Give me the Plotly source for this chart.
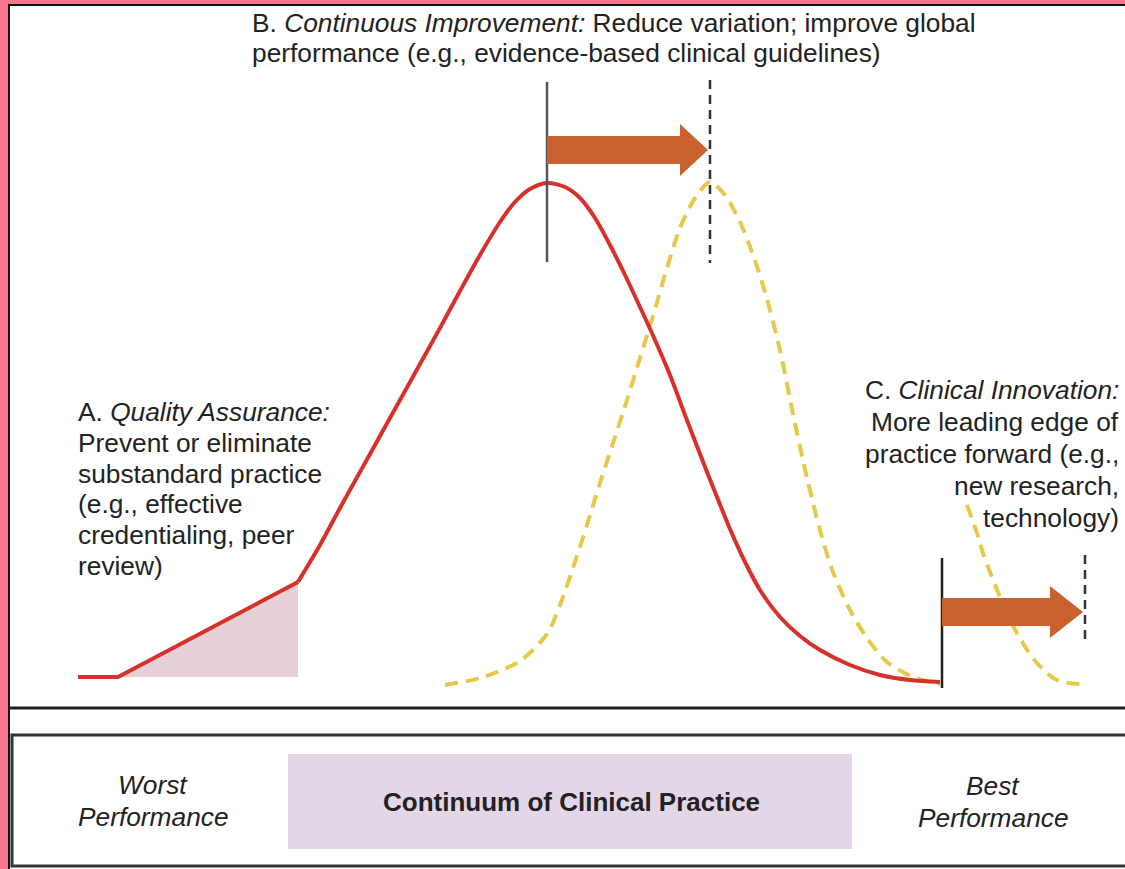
import plotly.graph_objects as go

# ---- data (pixel-space coordinates of the figure) ----
red_lin_x = [78, 118, 298]
red_lin_y = [677, 677, 582]

red_x = [298, 320, 340, 360, 380, 400, 420, 440, 460, 480, 500, 515, 530, 547,
         565, 580, 595, 610, 625, 640, 655, 670, 685, 700, 715, 730, 745, 760,
         780, 800, 820, 850, 880, 910, 940]
red_y = [582, 545, 508, 472, 436, 400, 364, 328, 291, 255, 222, 202, 189, 183,
         187, 198, 218, 245, 275, 307, 340, 375, 415, 454, 492, 529, 562, 590,
         617, 636, 650, 665, 675, 680, 682]

yel_b_x = [445, 480, 520, 547, 560, 573, 587, 600, 613, 627, 640, 653, 667, 680,
           695, 710, 725, 740, 752, 765, 780, 793, 807, 820, 833, 850, 867, 887,
           913, 940]
yel_b_y = [685, 678, 661, 634, 605, 568, 525, 483, 443, 400, 358, 316, 268, 228,
           198, 182, 195, 222, 252, 292, 350, 414, 478, 530, 572, 610, 638, 662,
           677, 684]

yel_c_x = [967, 977, 983, 1000, 1017, 1037, 1057, 1080]
yel_c_y = [505, 533, 553, 597, 633, 663, 680, 684]

# markers: [x, y_top, y_bottom]
b_solid = [547, 82, 262]
b_dash = [710, 80, 263]
c_solid = [942, 558, 688]
c_dash = [1085, 555, 640]

# arrows: [x_start, x_tip, y_center]
arrow_b = [547, 708, 150]
arrow_c = [942, 1083, 612]

text_b = ["B. <i>Continuous Improvement:</i> Reduce variation; improve global",
          "performance (e.g., evidence-based clinical guidelines)"]
text_a = ["A. <i>Quality Assurance:</i>", "Prevent or eliminate",
          "substandard practice", "(e.g., effective",
          "credentialing, peer", "review)"]
text_c = ["C. <i>Clinical Innovation:</i>", "More leading edge of",
          "practice forward (e.g.,", "new research,", "technology)"]

W, H = 1125, 869
PINK = "#F5788D"
RED = "#D8302B"
YEL = "#E6C84A"
ORANGE = "#C9622F"
FONT = "Liberation Sans, Arial, sans-serif"
FS = 26.3
TXT = "#222222"

fig = go.Figure()

# shaded area under quality-assurance segment
base = red_lin_y[0]
fill_x = red_lin_x[1:] + [red_lin_x[-1], red_lin_x[1]]
fill_y = red_lin_y[1:] + [base, base]
fig.add_trace(go.Scatter(x=fill_x, y=fill_y, fill="toself", mode="none",
                         fillcolor="#E8D0D8", hoverinfo="skip"))

fig.add_trace(go.Scatter(x=yel_b_x, y=yel_b_y, mode="lines", line_shape="spline",
                         line=dict(color=YEL, width=4, dash="13px,8px", smoothing=0.8)))
fig.add_trace(go.Scatter(x=yel_c_x, y=yel_c_y, mode="lines", line_shape="spline",
                         line=dict(color=YEL, width=4, dash="13px,8px")))
fig.add_trace(go.Scatter(x=red_lin_x, y=red_lin_y, mode="lines",
                         line=dict(color=RED, width=4)))
fig.add_trace(go.Scatter(x=red_x, y=red_y, mode="lines", line_shape="spline",
                         line=dict(color=RED, width=4, smoothing=0.8)))

shapes = []
# white panel with black border
shapes.append(dict(type="rect", x0=9, y0=5, x1=1140, y1=890, layer="below",
                   fillcolor="white", line=dict(color="#111", width=2)))
# divider
shapes.append(dict(type="line", x0=9, x1=1130, y0=708, y1=708,
                   line=dict(color="#222", width=3)))
# bottom box
shapes.append(dict(type="rect", x0=12, y0=735, x1=1140, y1=866, layer="below",
                   line=dict(color="#333", width=3)))
# purple band
shapes.append(dict(type="rect", x0=288, y0=754, x1=852, y1=849, layer="below",
                   fillcolor="#E4D6E9", line=dict(width=0)))

for v, dash, col in [(b_solid, "solid", "#555"), (b_dash, "9px,6px", "#333"),
                     (c_solid, "solid", "#222"), (c_dash, "9px,6px", "#333")]:
    shapes.append(dict(type="line", x0=v[0], x1=v[0], y0=v[1], y1=v[2],
                       line=dict(color=col, width=2.5, dash=dash)))


def arrow_path(a, half_shaft=14, half_head=26, head_len=28):
    x0, x1, yc = a
    xh = x1 - head_len
    pts = [(x0, yc - half_shaft), (xh, yc - half_shaft), (xh, yc - half_head),
           (x1, yc), (xh, yc + half_head), (xh, yc + half_shaft),
           (x0, yc + half_shaft)]
    return "M " + " L ".join(f"{px},{py}" for px, py in pts) + " Z"


shapes.append(dict(type="path", path=arrow_path(arrow_b), fillcolor=ORANGE,
                   line=dict(width=0)))
shapes.append(dict(type="path", path=arrow_path(arrow_c, head_len=33),
                   fillcolor=ORANGE, line=dict(width=0)))

ann = []


def add_text(t, x, y, xanchor="left", size=FS, bold=False, italic=False):
    ann.append(dict(text=t, x=x / W, y=1 - y / H, xref="paper", yref="paper",
                    xanchor=xanchor, yanchor="middle", showarrow=False,
                    font=dict(family=FONT, size=size, color=TXT,
                              weight="bold" if bold else "normal",
                              style="italic" if italic else "normal")))


for i, t in enumerate(text_b):
    add_text(t, 250, 23 + 30 * i)
for i, t in enumerate(text_a):
    add_text(t, 76, 412 + 30.8 * i)
for i, t in enumerate(text_c):
    add_text(t, 1121, 390 + 32 * i, xanchor="right")

add_text("Worst", 153, 785, xanchor="center", italic=True)
add_text("Performance", 153, 817, xanchor="center", italic=True)
add_text("Best", 993, 786, xanchor="center", italic=True)
add_text("Performance", 993, 818, xanchor="center", italic=True)
add_text("Continuum of Clinical Practice", 571, 802, xanchor="center", bold=True, size=26)

fig.update_layout(
    width=W, height=H, margin=dict(l=0, r=0, t=0, b=0),
    paper_bgcolor=PINK, plot_bgcolor=PINK, showlegend=False,
    xaxis=dict(range=[0, W], visible=False, fixedrange=True),
    yaxis=dict(range=[H, 0], visible=False, fixedrange=True),
    shapes=shapes, annotations=ann,
)

fig.write_html(
    "out.html",
    config={"displayModeBar": False},
    post_script="document.body.style.margin='0';document.body.style.overflow='hidden';",
)
